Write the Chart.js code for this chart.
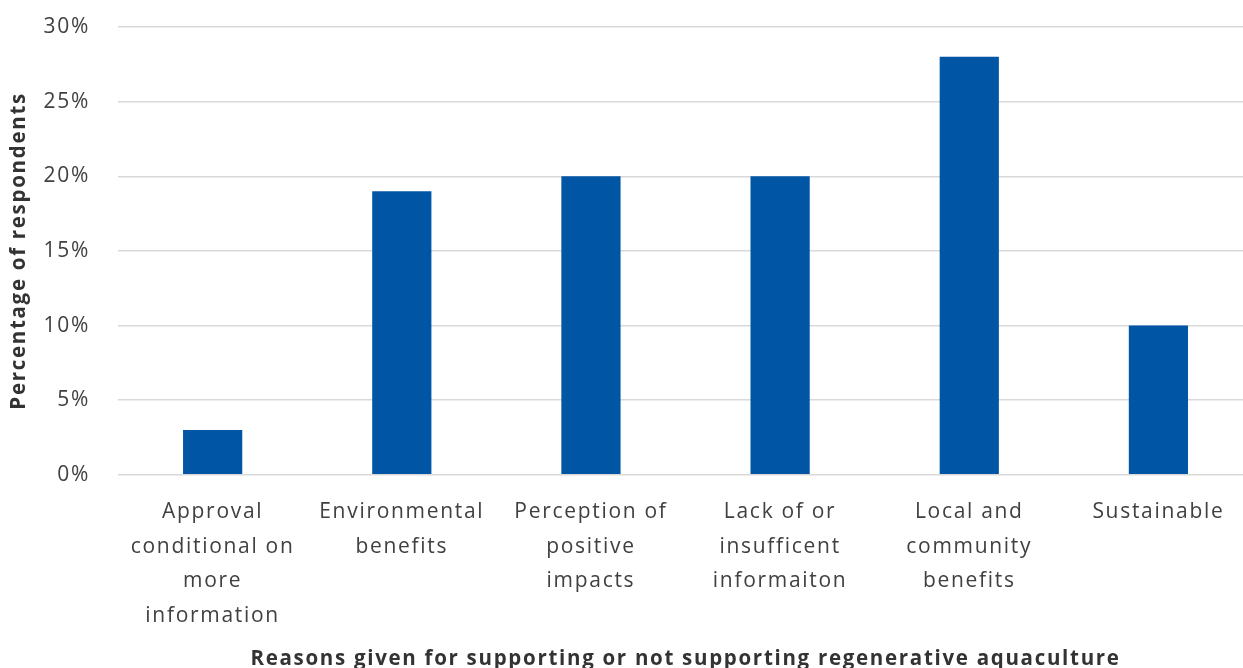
<!DOCTYPE html>
<html>
<head>
<meta charset="utf-8">
<script src="https://cdn.jsdelivr.net/npm/chart.js@4/dist/chart.umd.min.js"></script>
<style>
  html, body { margin: 0; padding: 0; background: #fff; overflow: hidden; }
  #wrap { width: 1253px; height: 671px; }
</style>
</head>
<body>
<div id="wrap"><canvas id="chart" width="1253" height="671"></canvas></div>
<script>
// Данные графика
const categories = [
    ['Approval', 'conditional on', 'more', 'information'],
    ['Environmental', 'benefits'],
    ['Perception of', 'positive', 'impacts'],
    ['Lack of or', 'insufficent', 'informaiton'],
    ['Local and', 'community', 'benefits'],
    ['Sustainable']
];
const percentages = [3, 19, 20, 20, 28, 10];
const yTicks = [0, 5, 10, 15, 20, 25, 30];

const fontFamily = '"Open Sans", "DejaVu Sans", sans-serif';
const textColor = '#404040';

// Разрядка букв, чтобы шрифт был ближе к оригиналу
const spacingPlugin = {
    id: 'spacing',
    beforeUpdate: chart => { chart.ctx.letterSpacing = '1.7px'; },
    beforeLayout: chart => { chart.ctx.letterSpacing = '1.7px'; },
    beforeDraw: chart => { chart.ctx.letterSpacing = '1.7px'; }
};

const ctx = document.getElementById('chart').getContext('2d');

new Chart(ctx, {
    type: 'bar',
    data: {
        labels: categories,
        datasets: [{
            data: percentages,
            backgroundColor: '#0055a5',
            barPercentage: 1,
            categoryPercentage: 0.313
        }]
    },
    plugins: [spacingPlugin],
    options: {
        responsive: false,
        animation: false,
        layout: { padding: 0 },
        plugins: {
            legend: { display: false },
            tooltip: { enabled: false }
        },
        scales: {
            x: {
                grid: { display: false, drawTicks: false },
                border: { display: false },
                ticks: {
                    color: textColor,
                    font: { family: fontFamily, size: 21, lineHeight: 1.65 },
                    padding: 20,
                    maxRotation: 0,
                    autoSkip: false
                },
                title: {
                    display: true,
                    text: 'Reasons given for supporting or not supporting regenerative aquaculture',
                    color: '#333',
                    font: { family: fontFamily, size: 20.5, weight: 'bold' },
                    padding: { top: -7, bottom: 0 }
                }
            },
            y: {
                min: 0,
                max: 30,
                afterBuildTicks: axis => { axis.ticks = yTicks.map(v => ({ value: v })); },
                // верхняя линия сетки на том же месте, что в оригинале
                afterFit: axis => { axis.paddingTop = 27; },
                grid: { color: '#d9d9d9', lineWidth: 1.5, drawTicks: false },
                border: { display: false },
                ticks: {
                    color: textColor,
                    font: { family: fontFamily, size: 21 },
                    padding: 28,
                    callback: v => v + '%'
                },
                title: {
                    display: true,
                    text: 'Percentage of respondents',
                    color: '#333',
                    font: { family: fontFamily, size: 20.5, weight: 'bold' },
                    padding: { top: 7, bottom: -16 }
                }
            }
        }
    }
});
</script>
</body>
</html>
